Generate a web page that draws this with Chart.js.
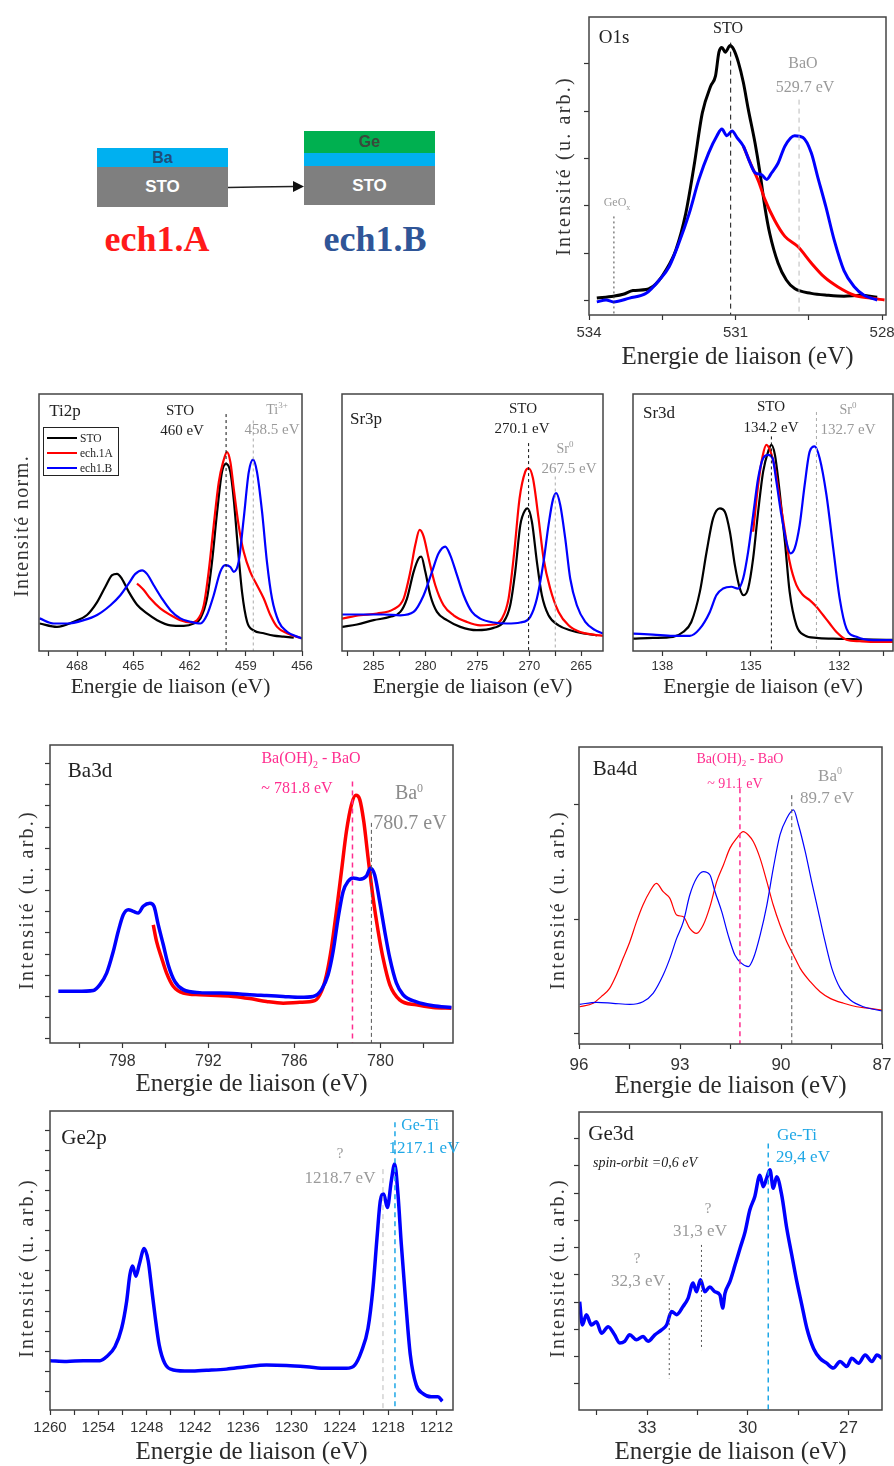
<!DOCTYPE html>
<html>
<head>
<meta charset="utf-8">
<script src="https://cdn.jsdelivr.net/npm/chart.js@4.4.1/dist/chart.umd.min.js"></script>
<style>
  body { margin: 0; background: #fff; }
  #page { position: relative; width: 894px; height: 1466px; overflow: hidden; background: #fff; }
  canvas { position: absolute; }
  .t { position: absolute; transform: translate(-50%, -50%); white-space: nowrap; font-family: 'Liberation Serif', serif; line-height: 1; color: #222; }
  .yt { position: absolute; transform: translate(-50%, -50%) rotate(-90deg); white-space: nowrap; font-family: 'Liberation Serif', serif; letter-spacing: 2.2px; color: #333; line-height: 1; }
  .grey { color: #9a9a9a; }
  .pink { color: #ff2d8f; }
  .cyan { color: #1ea7e6; }
  .layer { position: absolute; display: flex; align-items: center; justify-content: center; font-family: 'Liberation Sans Narrow', 'Liberation Sans', sans-serif; font-weight: bold; }
  .ech { position: absolute; transform: translate(-50%, -50%); font-family: 'Liberation Serif', serif; font-weight: bold; font-size: 36px; line-height: 1; }
  .legend { position: absolute; left: 43px; top: 427px; width: 74px; height: 47px; border: 1.5px solid #222; background: #fff; font-family: 'Liberation Serif', serif; font-size: 11.5px; color: #222; }
  .legend div { position: absolute; left: 3px; height: 14px; display: flex; align-items: center; }
  .legend span.l { display: inline-block; width: 30px; height: 2.5px; margin-right: 3px; }
</style>
</head>
<body>
<div id="page">
  <!-- schematic -->
  <div class="layer" style="left:97px;top:148px;width:131px;height:19px;background:#00b0f0;color:#1f4e79;font-size:16px;">Ba</div>
  <div class="layer" style="left:97px;top:167px;width:131px;height:40px;background:#7f7f7f;color:#fff;font-size:17px;">STO</div>
  <svg style="position:absolute;left:226px;top:178px" width="80" height="18">
    <line x1="2" y1="9.5" x2="68" y2="8.5" stroke="#222" stroke-width="1.5"/>
    <polygon points="67,3 78,8.5 67,14" fill="#111"/>
  </svg>
  <div class="layer" style="left:304px;top:131px;width:131px;height:22px;background:#00b050;color:#3b4a3b;font-size:16px;">Ge</div>
  <div class="layer" style="left:304px;top:153px;width:131px;height:13px;background:#00b0f0;"></div>
  <div class="layer" style="left:304px;top:166px;width:131px;height:39px;background:#7f7f7f;color:#fff;font-size:17px;">STO</div>
  <div class="ech" style="left:157px;top:239px;color:#ff1a1a;">ech1.A</div>
  <div class="ech" style="left:375px;top:239px;color:#2f5597;">ech1.B</div>

  <!-- O1s labels -->
  <div class="yt" style="left:563px;top:166px;font-size:20px;">Intensité (u. arb.)</div>
  <div class="t" style="left:614px;top:36px;font-size:19px;">O1s</div>
  <div class="t" style="left:728px;top:28px;font-size:16px;">STO</div>
  <div class="t grey" style="left:803px;top:63px;font-size:16px;">BaO</div>
  <div class="t grey" style="left:805px;top:87px;font-size:16px;">529.7 eV</div>
  <div class="t grey" style="left:617px;top:204px;font-size:12px;">GeO<sub style="font-size:8px">x</sub></div>

  <!-- Ti2p labels -->
  <div class="yt" style="left:21px;top:526px;font-size:20px;letter-spacing:1.4px;">Intensité norm.</div>
  <div class="t" style="left:65px;top:410px;font-size:17px;">Ti2p</div>
  <div class="t" style="left:180px;top:410px;font-size:15px;">STO</div>
  <div class="t" style="left:182px;top:430px;font-size:15px;">460 eV</div>
  <div class="t grey" style="left:277px;top:409px;font-size:14px;">Ti<sup style="font-size:9px">3+</sup></div>
  <div class="t grey" style="left:272px;top:429px;font-size:15px;">458.5 eV</div>
  <div class="legend">
    <div style="top:3px"><span class="l" style="background:#000"></span>STO</div>
    <div style="top:18px"><span class="l" style="background:#ff0000"></span>ech.1A</div>
    <div style="top:33px"><span class="l" style="background:#0000ff"></span>ech1.B</div>
  </div>

  <!-- Sr3p labels -->
  <div class="t" style="left:366px;top:418px;font-size:17px;">Sr3p</div>
  <div class="t" style="left:523px;top:408px;font-size:15px;">STO</div>
  <div class="t" style="left:522px;top:428px;font-size:15px;">270.1 eV</div>
  <div class="t grey" style="left:565px;top:448px;font-size:14px;">Sr<sup style="font-size:9px">0</sup></div>
  <div class="t grey" style="left:569px;top:468px;font-size:15px;">267.5 eV</div>

  <!-- Sr3d labels -->
  <div class="t" style="left:659px;top:412px;font-size:17px;">Sr3d</div>
  <div class="t" style="left:771px;top:406px;font-size:15px;">STO</div>
  <div class="t" style="left:771px;top:427px;font-size:15px;">134.2 eV</div>
  <div class="t grey" style="left:848px;top:409px;font-size:14px;">Sr<sup style="font-size:9px">0</sup></div>
  <div class="t grey" style="left:848px;top:429px;font-size:15px;">132.7 eV</div>

  <!-- Ba3d labels -->
  <div class="yt" style="left:26px;top:900px;font-size:20px;">Intensité (u. arb.)</div>
  <div class="t" style="left:90px;top:770px;font-size:21px;">Ba3d</div>
  <div class="t pink" style="left:311px;top:760px;font-size:16px;">Ba(OH)<sub style="font-size:10px">2</sub> - BaO</div>
  <div class="t pink" style="left:297px;top:788px;font-size:16px;">~ 781.8 eV</div>
  <div class="t grey" style="left:409px;top:792px;font-size:20px;color:#8c8c8c">Ba<sup style="font-size:12px">0</sup></div>
  <div class="t grey" style="left:410px;top:822px;font-size:20px;color:#8c8c8c">780.7 eV</div>

  <!-- Ba4d labels -->
  <div class="yt" style="left:557px;top:900px;font-size:20px;">Intensité (u. arb.)</div>
  <div class="t" style="left:615px;top:768px;font-size:21px;">Ba4d</div>
  <div class="t pink" style="left:740px;top:760px;font-size:14px;">Ba(OH)<sub style="font-size:9px">2</sub> - BaO</div>
  <div class="t pink" style="left:735px;top:784px;font-size:14px;">~ 91.1 eV</div>
  <div class="t grey" style="left:830px;top:775px;font-size:17px;">Ba<sup style="font-size:10px">0</sup></div>
  <div class="t grey" style="left:827px;top:797px;font-size:17px;">89.7 eV</div>

  <!-- Ge2p labels -->
  <div class="yt" style="left:26px;top:1268px;font-size:20px;">Intensité (u. arb.)</div>
  <div class="t" style="left:84px;top:1137px;font-size:21px;">Ge2p</div>
  <div class="t grey" style="left:340px;top:1153px;font-size:15px;">?</div>
  <div class="t grey" style="left:340px;top:1177px;font-size:17px;">1218.7 eV</div>
  <div class="t cyan" style="left:420px;top:1125px;font-size:16px;">Ge-Ti</div>
  <div class="t cyan" style="left:424px;top:1147px;font-size:17px;">1217.1 eV</div>

  <!-- Ge3d labels -->
  <div class="yt" style="left:557px;top:1268px;font-size:20px;">Intensité (u. arb.)</div>
  <div class="t" style="left:611px;top:1133px;font-size:21px;">Ge3d</div>
  <div class="t" style="left:645px;top:1163px;font-size:14px;font-style:italic;">spin-orbit =0,6 eV</div>
  <div class="t cyan" style="left:797px;top:1134px;font-size:17px;">Ge-Ti</div>
  <div class="t cyan" style="left:803px;top:1156px;font-size:17px;">29,4 eV</div>
  <div class="t grey" style="left:708px;top:1208px;font-size:15px;">?</div>
  <div class="t grey" style="left:700px;top:1230px;font-size:17px;">31,3 eV</div>
  <div class="t grey" style="left:637px;top:1258px;font-size:15px;">?</div>
  <div class="t grey" style="left:638px;top:1280px;font-size:17px;">32,3 eV</div>
</div>

<script>
const X_TITLE = 'Energie de liaison (eV)';
const BLACK = '#000000', RED = '#ff0000', BLUE = '#0000ff';

// ---- O1s (energie eV, intensite u. arb.)
const O1S_STO = [[533.84,0.03],[533.5,0.05],[533.3,0.07],[533.1,0.11],[532.83,0.12],[532.63,0.18],[532.43,0.32],[532.22,0.54],[532.02,0.92],[531.85,1.42],[531.68,1.98],[531.51,2.26],[531.41,2.37],[531.34,2.62],[531.28,2.67],[531.21,2.62],[531.11,2.69],[531.04,2.65],[530.94,2.51],[530.84,2.3],[530.74,2.02],[530.6,1.66],[530.5,1.35],[530.4,0.99],[530.3,0.71],[530.13,0.4],[529.96,0.22],[529.79,0.13],[529.45,0.08],[529.11,0.06],[528.78,0.05],[528.44,0.06],[528.1,0.04]];
const O1S_ECH1A = [[530.84,1.63],[530.67,1.42],[530.53,1.26],[530.4,1.07],[530.2,0.85],[529.99,0.68],[529.72,0.57],[529.45,0.4],[529.18,0.25],[528.91,0.15],[528.57,0.06],[528.24,0.03],[527.95,0.01]];
const O1S_ECH1B = [[533.84,-0.01],[533.65,0.01],[533.5,-0.01],[533.17,0.03],[532.83,0.08],[532.56,0.22],[532.36,0.36],[532.16,0.61],[531.95,0.92],[531.75,1.28],[531.55,1.56],[531.38,1.74],[531.28,1.81],[531.18,1.74],[531.07,1.79],[530.97,1.72],[530.84,1.63],[530.7,1.45],[530.6,1.35],[530.47,1.33],[530.36,1.28],[530.26,1.35],[530.13,1.45],[529.99,1.63],[529.79,1.74],[529.62,1.72],[529.45,1.56],[529.32,1.31],[529.15,0.99],[528.98,0.64],[528.78,0.32],[528.57,0.15],[528.37,0.06],[528.1,0.01]];
const O1S_MARKS = [[531.1, 2.72], [529.7, 2.12], [533.49, 0.89]];

// ---- Ti2p (intensite normalisee)
const TI2P_STO = [[470.0,0.107],[469.07,0.094],[468.18,0.114],[467.47,0.14],[466.93,0.19],[466.49,0.25],[466.13,0.295],[465.87,0.30],[465.6,0.28],[465.24,0.23],[464.8,0.18],[464.27,0.146],[463.73,0.12],[463.02,0.10],[462.31,0.098],[461.78,0.107],[461.42,0.127],[461.07,0.204],[460.8,0.347],[460.53,0.54],[460.27,0.696],[460.05,0.728],[459.82,0.696],[459.64,0.59],[459.43,0.41],[459.2,0.23],[458.93,0.114],[458.58,0.08],[458.04,0.069],[457.51,0.06],[456.98,0.056],[456.44,0.052]];
const TI2P_ECH1A = [[464.8,0.263],[464.44,0.237],[464.09,0.204],[463.56,0.166],[463.02,0.14],[462.49,0.12],[461.96,0.111],[461.6,0.12],[461.24,0.178],[460.98,0.308],[460.71,0.489],[460.44,0.657],[460.21,0.735],[460.0,0.774],[459.82,0.735],[459.64,0.631],[459.38,0.489],[459.11,0.386],[458.76,0.308],[458.4,0.256],[458.04,0.204],[457.69,0.14],[457.33,0.094],[456.8,0.069],[456.0,0.049]];
const TI2P_ECH1B = [[470.0,0.127],[469.24,0.107],[468.53,0.107],[467.64,0.12],[466.93,0.14],[466.22,0.178],[465.69,0.217],[465.24,0.263],[464.89,0.30],[464.53,0.314],[464.27,0.30],[463.91,0.256],[463.47,0.204],[463.02,0.159],[462.49,0.127],[461.96,0.114],[461.42,0.107],[461.07,0.14],[460.71,0.217],[460.36,0.308],[460.09,0.334],[459.82,0.327],[459.64,0.308],[459.38,0.347],[459.11,0.515],[458.84,0.696],[458.61,0.745],[458.4,0.696],[458.13,0.541],[457.87,0.347],[457.6,0.204],[457.24,0.114],[456.8,0.075],[456.0,0.049]];
const TI2P_MARKS = [[460.05, 0.922], [458.6, 0.897]];

// ---- Sr3p
const SR3P_STO = [[288.05,0.094],[286.6,0.103],[285,0.12],[283.4,0.133],[282.43,0.152],[281.79,0.204],[281.15,0.308],[280.67,0.36],[280.41,0.367],[280.02,0.308],[279.54,0.217],[278.9,0.152],[277.94,0.12],[276.65,0.094],[275.05,0.081],[273.44,0.09],[272.48,0.113],[271.84,0.178],[271.36,0.308],[270.87,0.49],[270.39,0.549],[270.17,0.555],[269.75,0.503],[269.27,0.347],[268.79,0.217],[268.15,0.139],[267.18,0.10],[266.06,0.081],[264.78,0.068],[263.49,0.061]];
const SR3P_ECH1A = [[288.05,0.126],[286.28,0.139],[284.68,0.146],[283.07,0.163],[282.11,0.204],[281.47,0.308],[280.99,0.412],[280.57,0.471],[280.18,0.445],[279.7,0.36],[279.06,0.256],[278.26,0.178],[277.3,0.139],[276.01,0.113],[274.73,0.10],[273.44,0.103],[272.64,0.126],[272.0,0.204],[271.45,0.386],[270.94,0.594],[270.39,0.698],[270.07,0.711],[269.65,0.672],[269.11,0.516],[268.63,0.36],[267.99,0.243],[267.18,0.152],[266.22,0.10],[265.1,0.074],[263.81,0.064],[262.9,0.059]];
const SR3P_ECH1B = [[288.05,0.142],[286.28,0.142],[284.04,0.142],[282.43,0.139],[281.15,0.152],[280.18,0.217],[279.38,0.308],[278.74,0.38],[278.1,0.406],[277.62,0.373],[276.97,0.295],[276.33,0.217],[275.53,0.152],[274.73,0.126],[273.44,0.111],[272.16,0.107],[270.87,0.111],[269.91,0.133],[269.27,0.204],[268.63,0.347],[268.15,0.49],[267.73,0.588],[267.41,0.614],[267.02,0.568],[266.54,0.438],[266.06,0.282],[265.42,0.178],[264.61,0.113],[263.65,0.081],[262.9,0.068]];
const SR3P_MARKS = [[270.07, 0.809], [267.5, 0.679]];

// ---- Sr3d
const SR3D_STO = [[139.0,0.048],[138.32,0.051],[137.64,0.055],[137.3,0.074],[137.02,0.113],[136.73,0.23],[136.5,0.386],[136.28,0.516],[136.05,0.555],[135.88,0.542],[135.71,0.464],[135.54,0.334],[135.37,0.243],[135.24,0.217],[135.09,0.243],[134.92,0.36],[134.75,0.542],[134.58,0.698],[134.41,0.776],[134.3,0.802],[134.18,0.763],[134.02,0.62],[133.84,0.425],[133.68,0.23],[133.45,0.10],[133.17,0.061],[132.77,0.051],[132.2,0.048],[131.52,0.046],[130.84,0.044],[130.17,0.043]];
const SR3D_ECH1A = [[134.92,0.464],[134.75,0.646],[134.6,0.757],[134.47,0.802],[134.33,0.776],[134.18,0.711],[134.02,0.594],[133.84,0.464],[133.68,0.347],[133.45,0.256],[133.22,0.217],[133.0,0.198],[132.77,0.172],[132.54,0.139],[132.32,0.107],[132.09,0.074],[131.75,0.044],[131.3,0.038],[130.73,0.035],[130.17,0.035]];
const SR3D_ECH1B = [[139.0,0.068],[138.32,0.064],[137.64,0.059],[137.07,0.059],[136.73,0.087],[136.39,0.152],[136.17,0.217],[135.94,0.243],[135.66,0.25],[135.43,0.243],[135.26,0.282],[135.09,0.386],[134.92,0.529],[134.75,0.672],[134.58,0.75],[134.41,0.763],[134.26,0.75],[134.13,0.659],[133.96,0.529],[133.79,0.425],[133.65,0.38],[133.51,0.399],[133.34,0.49],[133.17,0.646],[133.0,0.776],[132.83,0.796],[132.66,0.75],[132.43,0.607],[132.2,0.399],[131.98,0.204],[131.75,0.087],[131.41,0.055],[130.84,0.042],[130.17,0.042]];
const SR3D_MARKS = [[134.3, 0.835], [132.77, 0.93]];

// ---- Ba3d
const BA3D_ECH1A = [[795.84,2.69],[795.61,2.3],[795.26,1.91],[794.91,1.55],[794.45,1.24],[793.75,1.08],[792.59,1.04],[791.43,1.02],[790.27,1.0],[789.11,0.95],[787.94,0.88],[786.78,0.84],[785.62,0.86],[784.58,0.9],[784.11,1.12],[783.76,1.51],[783.42,2.14],[783.07,3.01],[782.72,3.95],[782.37,4.9],[782.02,5.53],[781.72,5.75],[781.44,5.65],[781.16,5.13],[780.86,4.27],[780.51,3.32],[780.16,2.54],[779.82,1.91],[779.35,1.28],[778.66,0.92],[777.49,0.8],[776.33,0.74],[775.05,0.72]];
const BA3D_ECH1B = [[802.46,1.12],[801.18,1.12],[800.02,1.14],[799.56,1.28],[799.09,1.55],[798.63,2.06],[798.28,2.54],[797.93,2.93],[797.58,3.05],[797.23,3.01],[796.89,2.97],[796.54,3.13],[796.07,3.2],[795.79,3.13],[795.49,2.69],[795.14,2.22],[794.8,1.75],[794.33,1.35],[793.75,1.16],[792.59,1.09],[791.43,1.08],[790.27,1.07],[789.11,1.04],[787.94,1.02],[786.78,1.0],[785.62,0.98],[784.69,1.0],[784.11,1.16],[783.65,1.51],[783.3,2.06],[782.95,2.85],[782.6,3.48],[782.25,3.72],[781.91,3.8],[781.44,3.77],[780.98,3.84],[780.7,4.03],[780.4,3.87],[780.05,3.24],[779.7,2.54],[779.35,1.91],[778.89,1.32],[778.42,1.04],[777.49,0.87],[776.33,0.78],[775.05,0.74]];
const BA3D_MARKS = [[781.95, 6.08], [780.63, 5.1]];

// ---- Ba4d
const BA4D_ECH1A = [[95.98,0.235],[95.58,0.265],[95.34,0.323],[95.09,0.395],[94.89,0.512],[94.69,0.657],[94.49,0.802],[94.29,0.977],[94.1,1.122],[93.9,1.238],[93.7,1.311],[93.5,1.238],[93.3,1.18],[93.1,1.035],[92.9,1.02],[92.71,0.919],[92.51,0.875],[92.31,0.948],[92.11,1.108],[91.91,1.326],[91.71,1.471],[91.52,1.616],[91.32,1.703],[91.12,1.762],[90.97,1.733],[90.82,1.674],[90.62,1.529],[90.42,1.326],[90.23,1.122],[90.03,0.948],[89.83,0.802],[89.63,0.686],[89.43,0.57],[89.13,0.453],[88.84,0.366],[88.54,0.308],[88.14,0.265],[87.75,0.235],[87.35,0.221],[87.0,0.206]];
const BA4D_ECH1B = [[95.98,0.256],[95.48,0.273],[94.99,0.265],[94.49,0.256],[94.1,0.279],[93.8,0.352],[93.5,0.512],[93.3,0.657],[93.1,0.831],[92.9,0.977],[92.71,1.209],[92.51,1.355],[92.31,1.413],[92.11,1.384],[91.96,1.238],[91.76,1.064],[91.57,0.86],[91.37,0.686],[91.17,0.613],[90.97,0.584],[90.82,0.657],[90.62,0.86],[90.42,1.122],[90.23,1.442],[90.03,1.733],[89.83,1.878],[89.63,1.951],[89.48,1.82],[89.28,1.587],[89.09,1.326],[88.89,1.064],[88.69,0.802],[88.49,0.57],[88.24,0.395],[87.94,0.294],[87.55,0.235],[87.0,0.198]];
const BA4D_MARKS = [[91.22, 2.14], [89.68, 2.08]];

// ---- Ge2p
const GE2P_ECH1B = [[1260,0.76],[1257.93,0.74],[1255.86,0.76],[1253.79,0.76],[1252.97,0.86],[1251.93,1.11],[1251.1,1.57],[1250.48,2.24],[1250.07,2.91],[1249.74,3.12],[1249.33,2.87],[1248.91,3.16],[1248.29,3.56],[1247.79,3.24],[1247.38,2.58],[1246.97,1.91],[1246.43,1.15],[1245.73,0.69],[1244.69,0.53],[1242.62,0.5],[1240.55,0.52],[1238.07,0.55],[1235.59,0.61],[1233.11,0.65],[1230.62,0.64],[1228.14,0.61],[1225.66,0.57],[1223.18,0.57],[1222.14,0.65],[1221.31,0.99],[1220.49,1.57],[1219.87,2.58],[1219.37,3.83],[1218.96,4.75],[1218.54,4.92],[1218.09,4.58],[1217.59,5.25],[1217.18,5.67],[1216.77,4.92],[1216.35,3.66],[1215.81,2.24],[1215.23,0.9],[1214.49,0.15],[1213.66,-0.06],[1212.63,-0.14],[1211.8,-0.14],[1211.26,-0.25]];
const GE2P_MARKS = [[1218.63, 5.54], [1217.14, 6.71]];

// ---- Ge3d
const GE3D_ECH1B = [[35.01,1.01],[34.93,0.58],[34.81,0.77],[34.66,0.58],[34.51,0.64],[34.36,0.43],[34.16,0.55],[33.97,0.4],[33.82,0.25],[33.67,0.28],[33.52,0.4],[33.32,0.31],[33.12,0.37],[32.97,0.28],[32.77,0.4],[32.57,0.49],[32.42,0.58],[32.27,0.83],[32.12,0.77],[31.93,0.92],[31.78,1.07],[31.63,1.35],[31.53,1.19],[31.41,1.41],[31.28,1.19],[31.13,1.28],[30.98,1.19],[30.83,1.13],[30.75,0.89],[30.68,1.16],[30.53,1.38],[30.38,1.68],[30.23,1.99],[30.08,2.29],[29.94,2.69],[29.79,2.94],[29.64,3.33],[29.54,3.12],[29.44,3.27],[29.34,3.43],[29.24,3.09],[29.14,3.3],[28.99,2.97],[28.84,2.36],[28.69,1.87],[28.54,1.38],[28.39,0.95],[28.24,0.52],[28.04,0.15],[27.85,-0.03],[27.65,-0.12],[27.45,-0.21],[27.25,-0.09],[27.05,-0.18],[26.9,-0.03],[26.7,-0.12],[26.5,0.03],[26.3,-0.09],[26.15,0.03],[26.0,-0.03]];
const GE3D_MARKS = [[29.39, 3.91], [31.38, 2.05, 0.12], [32.34, 1.35, -0.4]];

const page = document.getElementById('page');

const framePlugin = {
  id: 'frame',
  afterDatasetsDraw(chart) {
    const { ctx, chartArea: a } = chart;
    ctx.save();
    ctx.strokeStyle = '#444';
    ctx.lineWidth = 1.5;
    ctx.strokeRect(a.left, a.top, a.right - a.left, a.bottom - a.top);
    ctx.restore();
  }
};

function isMult(v, step) {
  const q = v / step;
  return Math.abs(q - Math.round(q)) < 1e-6;
}

function makePanel(p) {
  const padL = 45, padR = 28, padT = 5, padB = 1;
  const [fl, ft, fr, fb] = p.frame;
  const lh = p.titleSize * 1.2;
  const cTop = ft - padT;
  const cBottom = Math.round(p.titleY + lh / 2 + padB);
  const W = padL + (fr - fl) + padR;
  const H = cBottom - cTop;
  const xH = cBottom - padB - fb;

  const canvas = document.createElement('canvas');
  canvas.width = W; canvas.height = H;
  canvas.style.left = (fl - padL) + 'px';
  canvas.style.top = cTop + 'px';
  canvas.style.width = W + 'px';
  canvas.style.height = H + 'px';
  page.insertBefore(canvas, page.firstChild);

  const n = p.series.length;
  const datasets = p.series.map((s, i) => ({
    data: s.data.map(d => ({ x: d[0], y: d[1] })),
    borderColor: s.color,
    borderWidth: p.lineWidth,
    pointRadius: 0,
    cubicInterpolationMode: 'monotone',
    fill: false,
    order: n - i + 1
  }));
  p.marks.forEach((m, i) => {
    const st = p.markStyles[i];
    datasets.push({
      data: [{ x: m[0], y: m[1] }, { x: m[0], y: m.length > 2 ? m[2] : p.y[0] }],
      borderColor: st.color,
      borderWidth: st.width || 1,
      borderDash: st.dash,
      pointRadius: 0,
      fill: false,
      order: 0
    });
  });

  new Chart(canvas.getContext('2d'), {
    type: 'line',
    data: { datasets },
    plugins: [framePlugin],
    options: {
      responsive: false,
      animation: false,
      events: [],
      layout: { padding: { left: 0, top: padT, right: padR, bottom: padB } },
      plugins: { legend: { display: false }, tooltip: { enabled: false } },
      scales: {
        x: {
          type: 'linear', reverse: true, min: p.x[0], max: p.x[1],
          border: { display: false },
          grid: { drawOnChartArea: false, drawTicks: true, tickLength: 5, tickColor: '#333', tickWidth: 1.2 },
          ticks: {
            stepSize: p.xStep, includeBounds: false, autoSkip: false, maxRotation: 0, minRotation: 0,
            padding: p.tickPad, color: '#333',
            font: { family: 'Liberation Sans', size: p.tickSize },
            callback: v => isMult(v, p.xMajor) ? String(Math.round(v)) : ''
          },
          title: {
            display: true, text: X_TITLE, color: '#2a2a2a',
            font: { family: 'Liberation Serif', size: p.titleSize },
            padding: { top: 0, bottom: 0 }
          },
          afterFit: s => { s.height = xH; s.paddingLeft = 0; s.paddingRight = 0; }
        },
        y: {
          type: 'linear', min: p.y[0], max: p.y[1],
          border: { display: false },
          grid: { drawOnChartArea: false, drawTicks: !!p.yStep, tickLength: 5, tickColor: '#333', tickWidth: 1.2 },
          ticks: { display: false, stepSize: p.yStep || 1, includeBounds: false },
          afterFit: s => { s.width = padL; s.paddingTop = 0; s.paddingBottom = 0; }
        }
      }
    }
  });
}

const DOT_BLACK = { color: '#111', dash: [3, 3] };
const DOT_GREY = { color: '#aaa', dash: [3, 3] };

makePanel({
  frame: [589, 17, 886, 315], x: [527.92, 534], xStep: 1.5, xMajor: 3,
  y: [-0.148, 2.99], yStep: 0.5, tickSize: 15, tickPad: 4, titleSize: 25, titleY: 357, lineWidth: 3,
  series: [{ data: O1S_STO, color: BLACK }, { data: O1S_ECH1A, color: RED }, { data: O1S_ECH1B, color: BLUE }],
  marks: O1S_MARKS, markStyles: [{ color: '#111', dash: [5, 4] }, { color: '#bbb', dash: [5, 4] }, { color: '#444', dash: [2, 3] }]
});

makePanel({
  frame: [39, 394, 302, 651], x: [456, 470.03], xStep: 1.5, xMajor: 3,
  y: [0, 1], yStep: 0, tickSize: 13, tickPad: 3, titleSize: 21.5, titleY: 687, lineWidth: 2.2,
  series: [{ data: TI2P_STO, color: BLACK }, { data: TI2P_ECH1A, color: RED }, { data: TI2P_ECH1B, color: BLUE }],
  marks: TI2P_MARKS, markStyles: [DOT_BLACK, DOT_GREY]
});

makePanel({
  frame: [342, 394, 603, 651], x: [262.9, 288.05], xStep: 2.5, xMajor: 5,
  y: [0, 1], yStep: 0, tickSize: 13, tickPad: 3, titleSize: 21.5, titleY: 687, lineWidth: 2.2,
  series: [{ data: SR3P_STO, color: BLACK }, { data: SR3P_ECH1A, color: RED }, { data: SR3P_ECH1B, color: BLUE }],
  marks: SR3P_MARKS, markStyles: [DOT_BLACK, DOT_GREY]
});

makePanel({
  frame: [633, 394, 893, 651], x: [130.17, 139.0], xStep: 1.5, xMajor: 3,
  y: [0, 1], yStep: 0, tickSize: 13, tickPad: 3, titleSize: 21.5, titleY: 687, lineWidth: 2.2,
  series: [{ data: SR3D_STO, color: BLACK }, { data: SR3D_ECH1A, color: RED }, { data: SR3D_ECH1B, color: BLUE }],
  marks: SR3D_MARKS, markStyles: [DOT_BLACK, DOT_GREY]
});

makePanel({
  frame: [50, 745, 453, 1043], x: [774.94, 803.04], xStep: 3, xMajor: 6,
  y: [-0.1, 6.94], yStep: 0.5, tickSize: 16, tickPad: 4, titleSize: 25, titleY: 1084, lineWidth: 3.5,
  series: [{ data: BA3D_ECH1A, color: RED }, { data: BA3D_ECH1B, color: BLUE }],
  marks: BA3D_MARKS, markStyles: [{ color: '#ff2d8f', dash: [5, 4], width: 1.5 }, { color: '#555', dash: [4, 3] }]
});

makePanel({
  frame: [579, 747, 882, 1044], x: [87, 96], xStep: 1.5, xMajor: 3,
  y: [-0.09, 2.5], yStep: 1, tickSize: 17, tickPad: 6, titleSize: 25, titleY: 1086, lineWidth: 1.2,
  series: [{ data: BA4D_ECH1A, color: RED }, { data: BA4D_ECH1B, color: BLUE }],
  marks: BA4D_MARKS, markStyles: [{ color: '#ff2d8f', dash: [5, 4], width: 1.5 }, { color: '#555', dash: [4, 3] }]
});

makePanel({
  frame: [50, 1111, 453, 1410], x: [1209.93, 1260], xStep: 3, xMajor: 6,
  y: [-0.47, 6.99], yStep: 0.5, tickSize: 15, tickPad: 4, titleSize: 25, titleY: 1452, lineWidth: 3.5,
  series: [{ data: GE2P_ECH1B, color: BLUE }],
  marks: GE2P_MARKS, markStyles: [{ color: '#bbb', dash: [5, 4] }, { color: '#1ea7e6', dash: [5, 4], width: 1.5 }]
});

makePanel({
  frame: [579, 1112, 882, 1410], x: [26.0, 35.03], xStep: 1.5, xMajor: 3,
  y: [-0.98, 4.49], yStep: 0.5, tickSize: 17, tickPad: 3, titleSize: 25, titleY: 1452, lineWidth: 3.5,
  series: [{ data: GE3D_ECH1B, color: BLUE }],
  marks: GE3D_MARKS, markStyles: [{ color: '#1ea7e6', dash: [5, 4], width: 1.5 }, { color: '#555', dash: [2, 3] }, { color: '#555', dash: [2, 3] }]
});
</script>
</body>
</html>
